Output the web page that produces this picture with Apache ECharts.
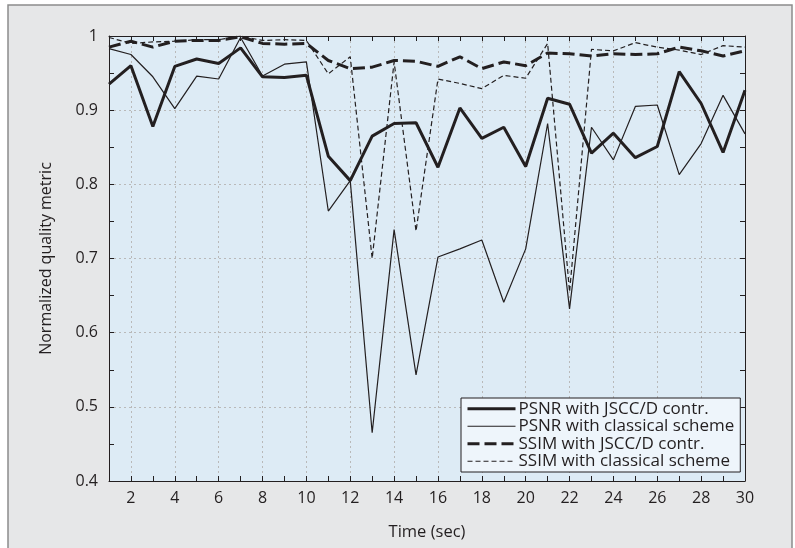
<!DOCTYPE html>
<html>
<head>
<meta charset="utf-8">
<script src="https://cdn.jsdelivr.net/npm/echarts@6/dist/echarts.min.js"></script>
<style>
  html, body { margin: 0; padding: 0; background: #fff; }
  #chart { width: 795px; height: 548px; }
</style>
</head>
<body>
<div id="chart"></div>
<script>
// time axis (sec)
const times = [1,2,3,4,5,6,7,8,9,10,11,12,13,14,15,16,17,18,19,20,21,22,23,24,25,26,27,28,29,30]

// values
const psnrJscc = [0.935,0.960,0.878,0.959,0.969,0.963,0.984,0.945,0.944,0.947,0.838,0.805,0.865,0.882,0.883,0.823,0.903,0.862,0.877,0.824,0.916,0.908,0.842,0.869,0.836,0.851,0.952,0.909,0.843,0.927]
const psnrClassic = [0.983,0.975,0.945,0.902,0.946,0.942,0.998,0.946,0.962,0.965,0.764,0.805,0.465,0.739,0.543,0.702,0.713,0.725,0.641,0.713,0.882,0.632,0.877,0.833,0.905,0.907,0.813,0.855,0.920,0.868]
const ssimJscc = [0.985,0.993,0.985,0.993,0.994,0.994,0.999,0.990,0.989,0.990,0.967,0.956,0.958,0.967,0.966,0.959,0.972,0.956,0.965,0.960,0.977,0.976,0.973,0.976,0.975,0.976,0.985,0.980,0.973,0.980]
const ssimClassic = [0.998,0.990,0.992,0.993,0.995,0.995,1.000,0.994,0.995,0.994,0.949,0.972,0.700,0.965,0.737,0.942,0.936,0.929,0.947,0.943,0.990,0.655,0.982,0.980,0.991,0.985,0.981,0.975,0.987,0.985]

const names = ['PSNR with JSCC/D contr.', 'PSNR with classical scheme', 'SSIM with JSCC/D contr.', 'SSIM with classical scheme']

const ink = '#231f20'
const font = 'Open Sans'

// line look per series (also used for the legend icons)
const styles = [
    { color: ink, width: 3, type: 'solid' },
    { color: ink, width: 1.2, type: 'solid' },
    { color: ink, width: 3, type: [12, 5] },
    { color: ink, width: 1.2, type: [5, 3] }
]
const values = [psnrJscc, psnrClassic, ssimJscc, ssimClassic]

const myChart = echarts.init(document.getElementById('chart'))

const tickStyle = { show: true, inside: true, length: 5, lineStyle: { color: ink } }
const gridLine = { show: true, lineStyle: { color: '#b9b9b9', type: [2, 3], width: 1 } }

const option = {
    animation: false,
    backgroundColor: '#fff',
    textStyle: { fontFamily: font },
    graphic: [
        {
            type: 'rect',
            z: -10,
            shape: { x: 8, y: 5, width: 784, height: 560 },
            style: { fill: '#e6e7e8', stroke: '#8c8c8c', lineWidth: 1.5 }
        }
    ],
    grid: {
        left: 109,
        right: 50,
        top: 36,
        bottom: 67,
        show: true,
        backgroundColor: '#ddebf5',
        borderWidth: 0
    },
    legend: {
        orient: 'vertical',
        left: 461,
        top: 398,
        backgroundColor: '#eef5fb',
        borderColor: ink,
        borderWidth: 1,
        borderRadius: 0,
        padding: [2, 6, 2, 5],
        itemGap: 0,
        itemWidth: 48,
        itemHeight: 14,
        textStyle: { fontSize: 17, color: ink, fontFamily: font, lineHeight: 17.5, padding: [0, 0, 0, -2] },
        data: names.map((n, i) => ({
            name: n,
            itemStyle: { color: 'rgba(0,0,0,0)', borderWidth: 0 },
            lineStyle: { ...styles[i] }
        }))
    },
    xAxis: [
        {
            type: 'category',
            data: times,
            boundaryGap: false,
            name: 'Time (sec)',
            nameLocation: 'middle',
            nameGap: 43,
            nameTextStyle: { fontSize: 16.5, color: ink, fontFamily: font },
            axisLine: { lineStyle: { color: ink, width: 1 } },
            axisTick: { ...tickStyle, interval: 0 },
            axisLabel: {
                fontSize: 16,
                color: ink,
                margin: 9,
                interval: (idx) => idx % 2 === 1
            },
            splitLine: { ...gridLine, interval: (idx) => idx % 2 === 1 }
        },
        {
            type: 'category',
            data: times,
            boundaryGap: false,
            position: 'top',
            axisLine: { lineStyle: { color: ink, width: 1 } },
            axisTick: { ...tickStyle, interval: 0 },
            axisLabel: { show: false },
            splitLine: { show: false }
        }
    ],
    yAxis: [
        {
            type: 'value',
            min: 0.4,
            max: 1,
            interval: 0.1,
            name: 'Normalized quality metric',
            nameLocation: 'middle',
            nameGap: 55,
            nameTextStyle: { fontSize: 16, color: ink, fontFamily: font },
            axisLine: { show: true, lineStyle: { color: ink, width: 1 } },
            axisTick: tickStyle,
            minorTick: { show: true, splitNumber: 2, length: 5, lineStyle: { color: ink } },
            axisLabel: { fontSize: 16, color: ink, margin: 11 },
            splitLine: gridLine
        },
        {
            type: 'value',
            min: 0.4,
            max: 1,
            interval: 0.1,
            position: 'right',
            axisLine: { show: true, lineStyle: { color: ink, width: 1 } },
            axisTick: tickStyle,
            minorTick: { show: true, splitNumber: 2, length: 5, lineStyle: { color: ink } },
            axisLabel: { show: false },
            splitLine: { show: false }
        }
    ],
    series: names.map((n, i) => ({
        name: n,
        type: 'line',
        data: values[i],
        symbol: 'none',
        lineStyle: { ...styles[i] },
        itemStyle: { color: ink },
        z: 5 - i
    }))
}

option && myChart.setOption(option)
</script>
</body>
</html>
